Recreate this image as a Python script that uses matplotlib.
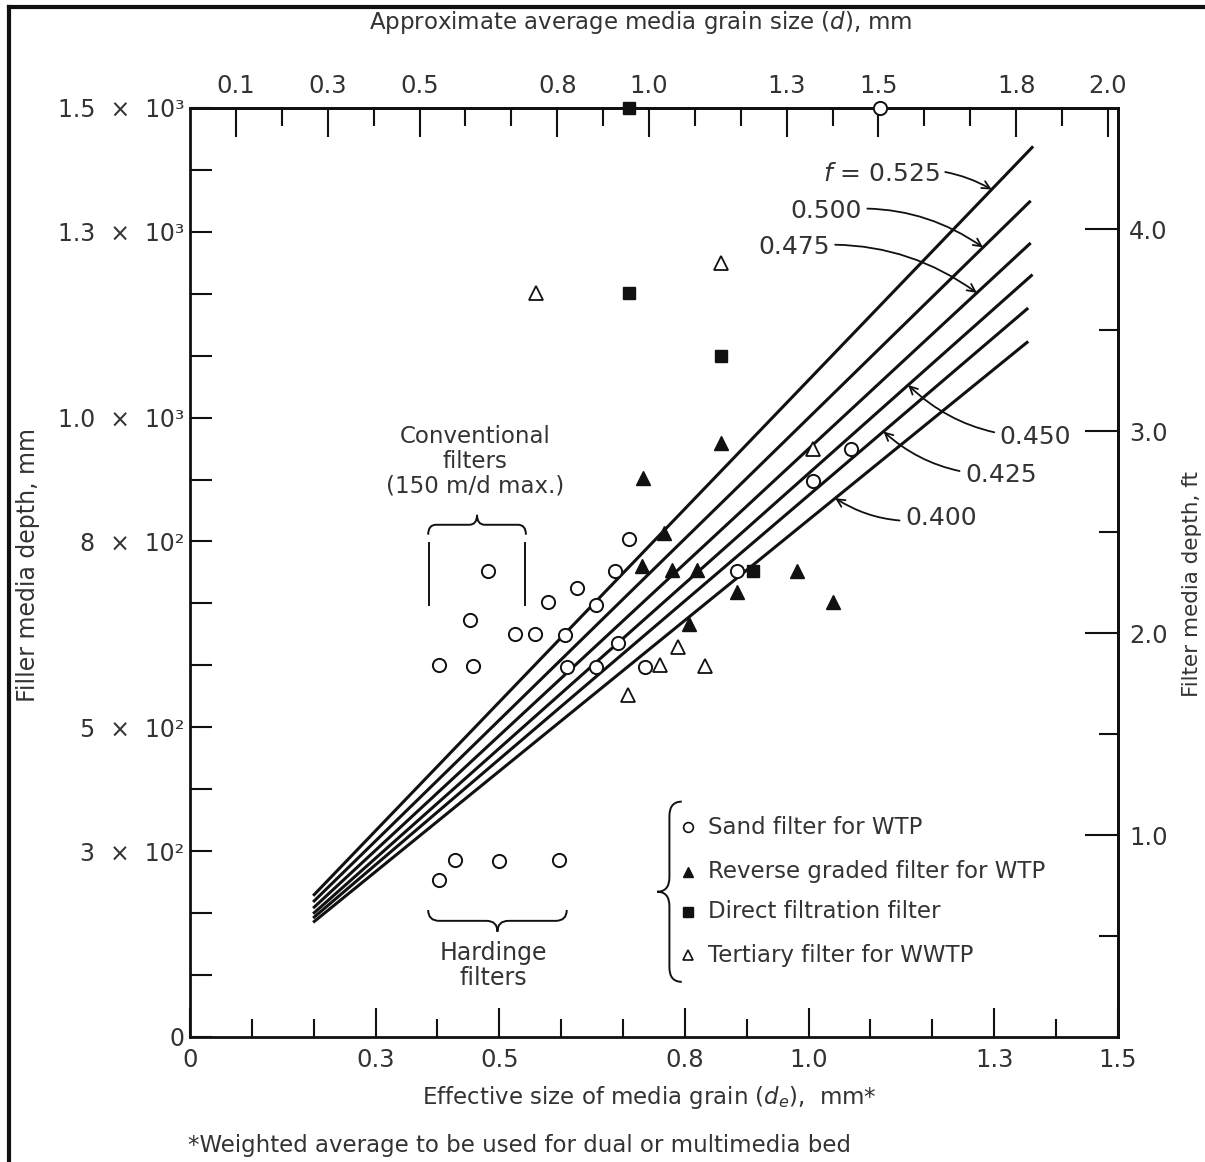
import matplotlib
matplotlib.use('Agg')
import matplotlib.pyplot as plt
from matplotlib.path import Path
from matplotlib.patches import PathPatch
from matplotlib.lines import Line2D
import numpy as np

# --- data (de in mm, depth in mm) ---
sand_de = [0.403, 0.457, 0.453, 0.481, 0.525, 0.558, 0.579, 0.606, 0.625, 0.610,
           0.656, 0.657, 0.687, 0.692, 0.710, 0.735, 0.884, 1.007, 1.068, 1.115,
           0.402, 0.428, 0.500, 0.597]
sand_depth = [601, 599, 674, 753, 651, 651, 703, 649, 725, 598,
              598, 698, 752, 636, 804, 598, 752, 898, 950, 1500,
              253, 285, 284, 286]

reverse_de = [0.733, 0.859, 0.766, 0.730, 0.779, 0.820, 0.981, 0.884, 1.040, 0.806]
reverse_depth = [903, 959, 814, 760, 754, 754, 752, 719, 703, 666]

direct_de = [0.710, 0.859, 0.910, 0.710]
direct_depth = [1202, 1099, 753, 1500]

tertiary_de = [0.560, 0.859, 0.708, 0.789, 0.760, 0.832, 1.007]
tertiary_depth = [1202, 1249, 552, 630, 601, 599, 949]

# f (porosity) lines
f_labels = ['$f$ = 0.525', '0.500', '0.475', '0.450', '0.425', '0.400']
line_de_start = [0.199, 0.199, 0.199, 0.199, 0.199, 0.199]
line_depth_start = [228, 218, 208, 199, 192, 185]
line_de_end = [1.363, 1.359, 1.359, 1.362, 1.355, 1.355]
line_depth_end = [1438, 1350, 1282, 1231, 1177, 1123]
arrow_de = [1.296, 1.282, 1.272, 1.161, 1.121, 1.043]

x_major = [0, 0.3, 0.5, 0.8, 1.0, 1.3, 1.5]
x_minor = [0.1, 0.2, 0.4, 0.6, 0.7, 0.9, 1.1, 1.2, 1.4]
y_major = [0, 300, 500, 800, 1000, 1300, 1500]
y_major_labels = ['0', '3  ×  10²', '5  ×  10²', '8  ×  10²',
                  '1.0  ×  10³', '1.3  ×  10³', '1.5  ×  10³']
y_minor = [100, 200, 400, 600, 700, 900, 1100, 1200, 1400]
d_major = [0.1, 0.3, 0.5, 0.8, 1.0, 1.3, 1.5, 1.8, 2.0]
d_minor = [0.2, 0.4, 0.6, 0.7, 0.9, 1.1, 1.2, 1.4, 1.6, 1.7, 1.9]
ft_major = [1.0, 2.0, 3.0, 4.0]
ft_minor = [0.5, 1.5, 2.5, 3.5]

DE_PER_D = 0.742   # scale relation of top axis as drawn
MM_PER_FT = 326.0  # scale relation of right axis as drawn

INK = '#111111'
TXT = '#333333'
plt.rcParams['font.family'] = ['DejaVu Sans']


def brace(ax, a0, a1, base, depth, vertical=False, **kw):
    am = (a0 + a1) / 2
    r = (a1 - a0) * 0.08
    half = base + depth / 2
    tip = base + depth
    pts = [(a0, base), (a0, half), (a0 + r, half), (am - r, half), (am, half), (am, tip),
           (am, half), (am + r, half), (a1 - r, half), (a1, half), (a1, base)]
    codes = [Path.MOVETO, Path.CURVE3, Path.CURVE3, Path.LINETO, Path.CURVE3, Path.CURVE3,
             Path.CURVE3, Path.CURVE3, Path.LINETO, Path.CURVE3, Path.CURVE3]
    if vertical:
        pts = [(q, p) for p, q in pts]
    ax.add_patch(PathPatch(Path(pts, codes), fill=False, **kw))


fig = plt.figure(figsize=(12.05, 11.62), dpi=100)
ax = fig.add_axes([0.1577, 0.1076, 0.770, 0.7995])
ax.set_xlim(0, 1.5)
ax.set_ylim(0, 1500)

for i in range(len(f_labels)):
    ax.plot([line_de_start[i], line_de_end[i]], [line_depth_start[i], line_depth_end[i]],
            color=INK, lw=2.2, solid_capstyle='butt')

ax.plot(sand_de, sand_depth, 'o', ms=9.5, mfc='white', mec=INK, mew=1.4, ls='none', clip_on=False, zorder=5)
ax.plot(reverse_de, reverse_depth, '^', ms=10, color=INK, ls='none', zorder=5)
ax.plot(direct_de, direct_depth, 's', ms=9, color=INK, ls='none', clip_on=False, zorder=5)
ax.plot(tertiary_de, tertiary_depth, '^', ms=10.5, mfc='white', mec=INK, mew=1.3, ls='none', zorder=5)

# f line labels
text_pos = [(1.212, 1393, 'right'), (1.086, 1333, 'right'), (1.034, 1275, 'right'),
            (1.309, 969, 'left'), (1.253, 908, 'left'), (1.156, 838, 'left')]
for i, lab in enumerate(f_labels):
    tip_y = np.interp(arrow_de[i], [line_de_start[i], line_de_end[i]],
                      [line_depth_start[i], line_depth_end[i]])
    tx, ty, ha = text_pos[i]
    ax.annotate(lab, xy=(arrow_de[i], tip_y), xytext=(tx, ty), ha=ha, va='center',
                fontsize=18, color=TXT,
                arrowprops=dict(arrowstyle='->', color=INK, lw=1.3, mutation_scale=14,
                                connectionstyle='arc3,rad=-0.2', shrinkA=2, shrinkB=0))

# conventional filters
ax.text(0.461, 929, 'Conventional\nfilters\n(150 m/d max.)', ha='center', va='center',
        fontsize=16.5, color=TXT, linespacing=1.1)
brace(ax, 0.385, 0.543, 811, 32, color=INK, lw=1.4)
ax.plot([0.386, 0.386], [698, 798], color=INK, lw=1.4)
ax.plot([0.541, 0.541], [698, 798], color=INK, lw=1.4)

# hardinge filters
brace(ax, 0.385, 0.609, 205, -35, color=INK, lw=1.4)
ax.text(0.490, 116, 'Hardinge\nfilters', ha='center', va='center', fontsize=17,
        color=TXT, linespacing=1.05)

# legend
brace(ax, 89, 380, 0.795, -0.040, vertical=True, color=INK, lw=1.4)
leg_y = [339, 267, 202, 132]
leg_text = ['Sand filter for WTP', 'Reverse graded filter for WTP',
            'Direct filtration filter', 'Tertiary filter for WWTP']
leg_style = [dict(marker='o', mfc='white', mec=INK, mew=1.2, ms=7),
             dict(marker='^', color=INK, ms=7.5),
             dict(marker='s', color=INK, ms=6.5),
             dict(marker='^', mfc='white', mec=INK, mew=1.2, ms=7.5)]
for yy, tt, st in zip(leg_y, leg_text, leg_style):
    ax.plot([0.805], [yy], ls='none', **st)
    ax.text(0.838, yy, tt, ha='left', va='center', fontsize=16.5, color=TXT)

# axes styling
for s in ax.spines.values():
    s.set_linewidth(2.0)
    s.set_color(INK)

ax.set_xticks(x_major)
ax.set_xticklabels(['0', '0.3', '0.5', '0.8', '1.0', '1.3', '1.5'])
ax.set_xticks(x_minor, minor=True)
ax.set_yticks(y_major)
ax.set_yticklabels(y_major_labels)
ax.set_yticks(y_minor, minor=True)
ax.tick_params(axis='x', which='major', direction='in', length=21, width=1.5,
               pad=8, labelsize=17.5, labelcolor=TXT, color=INK)
ax.tick_params(axis='x', which='minor', direction='in', length=13, width=1.5, color=INK)
ax.tick_params(axis='y', which='both', direction='in', length=16, width=1.5,
               pad=4, labelsize=17, labelcolor=TXT, color=INK)

secx = ax.secondary_xaxis('top', functions=(lambda x: x / DE_PER_D, lambda d: d * DE_PER_D))
secx.set_xticks(d_major)
secx.set_xticklabels(['%.1f' % v for v in d_major])
secx.set_xticks(d_minor, minor=True)
secx.tick_params(which='major', direction='in', length=21, width=1.5, pad=7,
                 labelsize=17.5, labelcolor=TXT, color=INK)
secx.tick_params(which='minor', direction='in', length=13, width=1.5, color=INK)
secx.spines['top'].set_linewidth(2.0)

secy = ax.secondary_yaxis('right', functions=(lambda y: y / MM_PER_FT, lambda f: f * MM_PER_FT))
secy.set_yticks(ft_major)
secy.set_yticklabels(['%.1f' % v for v in ft_major])
secy.set_yticks(ft_minor, minor=True)
secy.tick_params(which='major', direction='in', length=24, width=1.5, pad=8,
                 labelsize=17.5, labelcolor=TXT, color=INK)
secy.tick_params(which='minor', direction='in', length=14, width=1.5, color=INK)
secy.spines['right'].set_linewidth(2.0)

# axis titles
fig.text(0.532, 0.981, 'Approximate average media grain size ($d$), mm', ha='center',
         va='center', fontsize=16.5, color=TXT)
fig.text(0.539, 0.0559, 'Effective size of media grain ($d_e$),  mm*', ha='center',
         va='center', fontsize=16.5, color=TXT)
fig.text(0.156, 0.0146, '*Weighted average to be used for dual or multimedia bed',
         ha='left', va='center', fontsize=16.5, color=TXT)
fig.text(0.023, 0.514, 'Filler media depth, mm', rotation=90, ha='center', va='center',
         fontsize=17, color=TXT)
fig.text(0.989, 0.497, 'Filter media depth, ft', rotation=90, ha='center', va='center',
         fontsize=15.5, color=TXT)

# page border from the scan
fig.add_artist(Line2D([0.0075, 1.0], [0.994, 0.994], transform=fig.transFigure, color=INK, lw=3))
fig.add_artist(Line2D([0.0075, 0.0075], [0.0, 0.994], transform=fig.transFigure, color=INK, lw=3))

fig.savefig('out.png', dpi=100)
